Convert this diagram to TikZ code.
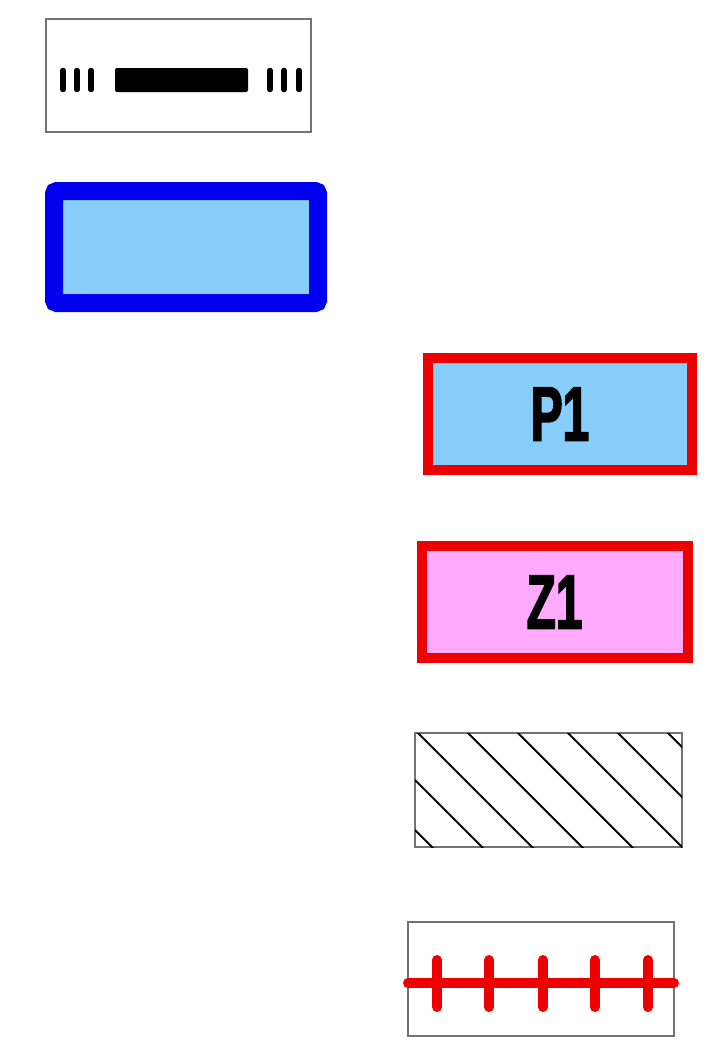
\documentclass[tikz,border=0pt]{standalone}
\usepackage{fontspec}
\usepackage{tikz}
\usepackage{xcolor}
\newfontfamily\labelfont{Liberation Sans Bold}[FakeStretch=0.62, FakeBold=2]
\definecolor{sky-fill}{HTML}{87CEFA}
\definecolor{pink-fill}{HTML}{FFAAFF}
\definecolor{zone-red}{HTML}{EE0000}
\definecolor{frame-blue}{HTML}{0000EE}
\tikzset{
    legend-box/.style = {rectangle, minimum width=265pt, minimum height=113pt, inner sep=0pt, outer sep=0pt},
    gray-box/.style = {legend-box, draw=black!55, line width=1.5pt},
    blue-box/.style = {legend-box, draw=frame-blue, fill=sky-fill, line width=18pt, rounded corners=3pt},
    red-box/.style = {legend-box, draw=zone-red, line width=10pt, font=\labelfont\fontsize{77}{80}\selectfont},
    tick-mark/.style = {line width=5.5pt, line cap=round},
    red-line/.style = {zone-red, line width=10pt, line cap=round},
}

\begin{document}
\begin{tikzpicture}[x=1pt, y=-1pt]
\useasboundingbox[fill=white] (0,0) rectangle (722,1061);

% legend entries
\node [gray-box] (seal) at (178.5,75.5) {};
\node [blue-box, minimum width=264pt, minimum height=112pt] (pool) at (186,247) {};
\node [red-box, fill=sky-fill, minimum width=264pt, minimum height=112pt] (p1) at (560,414) {P1};
\node [red-box, fill=pink-fill, minimum width=266pt, minimum height=112pt] (z1) at (554.5,602) {Z1};
\node [gray-box, minimum width=267pt, minimum height=114pt] (hatch) at (548.5,790) {};
\node [gray-box, minimum width=266pt, minimum height=114pt] (cross) at (541,979) {};

% seal line
\foreach \x in {63,77,91,270,284,299}
    \draw [tick-mark] (\x,70.5) -- (\x,89.5);
\fill [rounded corners=2pt] (115,68) rectangle (248,92);

% hatching
\begin{scope}
\clip (hatch.north west) rectangle (hatch.south east);
\foreach \c in {-415,-365,...,-65}
    \draw [line width=1.8pt] (415,415-\c) -- (832,832-\c);
\end{scope}

% red cut line
\draw [red-line] ([yshift=-4pt]cross.west) -- ([yshift=-4pt]cross.east);
\foreach \x in {437,489,543,595,648}
    \draw [red-line] (\x,960) -- (\x,1007);
\end{tikzpicture}
\end{document}
